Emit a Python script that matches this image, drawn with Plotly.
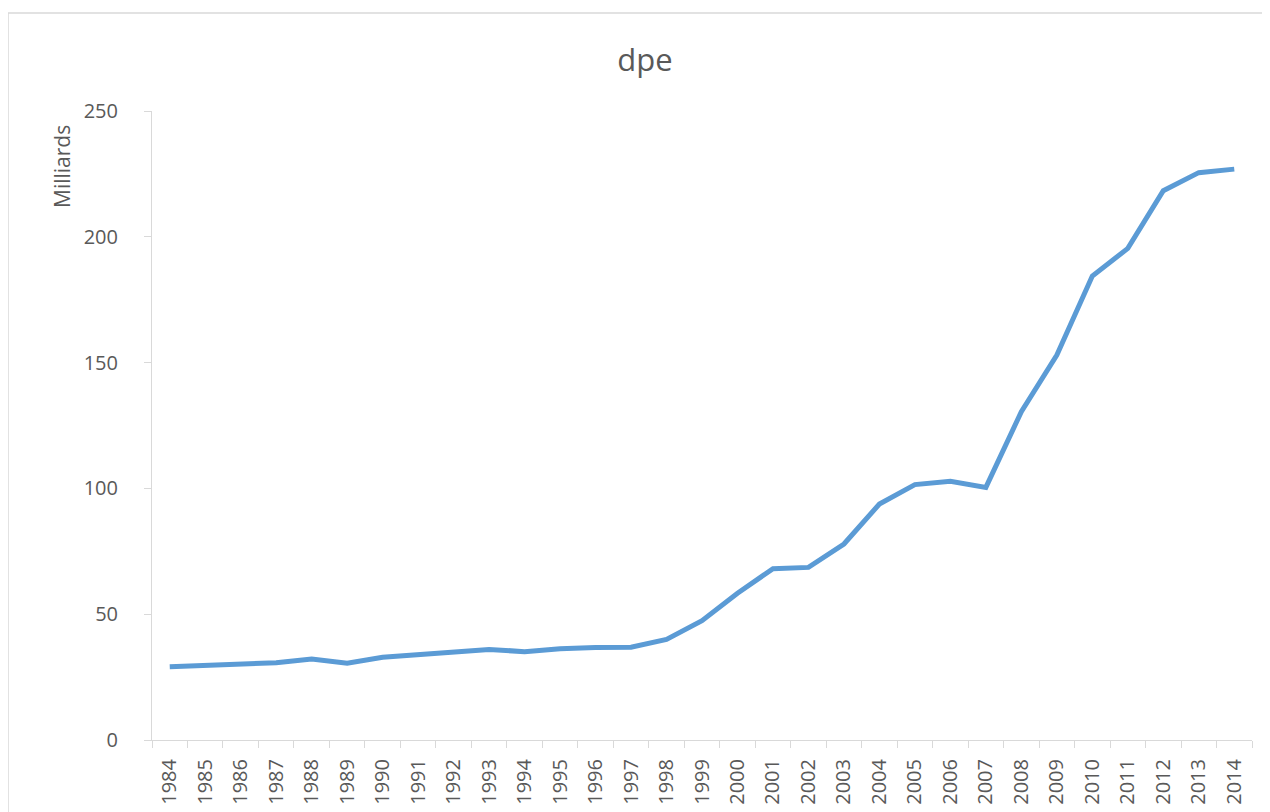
import plotly.graph_objects as go

years = [str(y) for y in range(1984, 2015)]
dpe = [29.1, 29.5, 30.2, 30.7, 32.2, 30.5, 32.9, 34.0, 35.0, 36.0,
       35.1, 36.3, 36.8, 36.9, 40.0, 47.4, 58.3, 68.1, 68.6, 77.9,
       93.8, 101.5, 102.8, 100.4, 130.5, 153.0, 184.4, 195.4, 218.3, 225.5, 226.9]

yticks = [0, 50, 100, 150, 200, 250]

W, H = 1270, 812
OFF = 8  # page body margin
L, T = 152 - OFF, 111 - OFF
R = W - (1252 - OFF)
B = H - (740 - OFF)
PW, PH = W - L - R, H - T - B

fig = go.Figure()
fig.add_trace(go.Scatter(
    x=years, y=dpe, mode="lines",
    line=dict(color="#5B9BD5", width=5),
    hoverinfo="x+y", showlegend=False,
))

grey = "#595959"
fig.update_layout(
    width=W, height=H,
    margin=dict(l=L, r=R, t=T, b=B, pad=0),
    paper_bgcolor="white", plot_bgcolor="white",
    font=dict(family="Open Sans, Lato, sans-serif", color=grey),
    title=dict(text="dpe", x=(645 - OFF) / W, xref="container", xanchor="center",
               y=1 - (60 - OFF) / H, yref="container", yanchor="middle",
               font=dict(size=31, color=grey)),
    xaxis=dict(
        type="category", categoryorder="array", categoryarray=years,
        tickmode="array", tickvals=years, ticktext=years,
        tickangle=-90, tickfont=dict(size=20, color=grey),
        showline=True, linecolor="#D9D9D9", linewidth=1,
        ticks="outside", ticklen=7, tickcolor="#D9D9D9",
        tickson="boundaries", showgrid=False, zeroline=False,
        range=[-0.5, len(years) - 0.5], ticklabelstandoff=10,
    ),
    yaxis=dict(
        range=[0, 250], tickmode="array", tickvals=yticks,
        ticktext=[str(v) for v in yticks],
        tickfont=dict(size=20, color=grey),
        showline=True, linecolor="#D9D9D9", linewidth=1,
        ticks="outside", ticklen=7, tickcolor="#D9D9D9",
        showgrid=False, zeroline=False, ticklabelstandoff=22,
    ),
    annotations=[dict(
        text="Milliards", textangle=-90, xref="paper", yref="paper",
        x=(62 - 152) / PW, y=1 - (167 - 111) / PH, xanchor="center", yanchor="middle",
        showarrow=False, font=dict(size=21, color=grey),
    )],
    shapes=[dict(
        type="rect", xref="paper", yref="paper",
        x0=(8 - 152) / PW, x1=(1300 - 152) / PW,
        y0=-0.5, y1=1 + (111 - 13) / PH,
        line=dict(color="#D9D9D9", width=1.5), layer="below",
    )],
)

fig.write_html("out.html")
